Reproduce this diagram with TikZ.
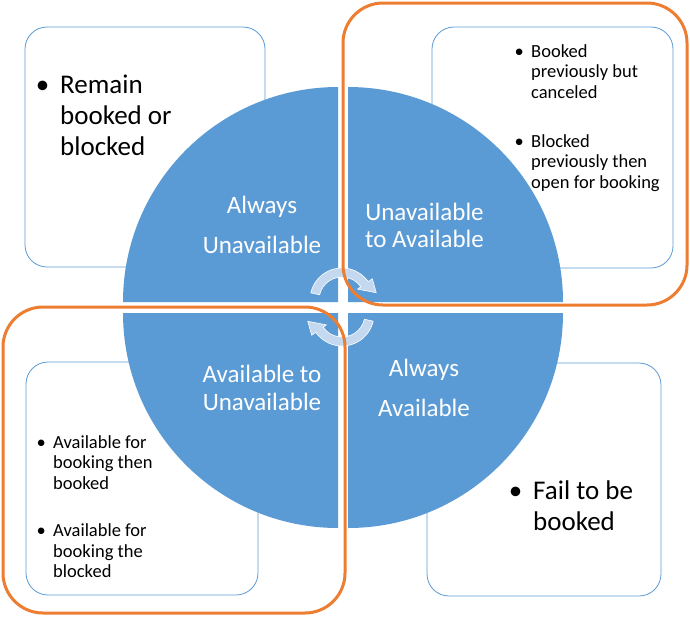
\documentclass[tikz,border=0pt]{standalone}
\usepackage{fontspec}
\setmainfont{Carlito}
\usepackage{xcolor}
\definecolor{qblue}{RGB}{91,155,213}
\definecolor{qorange}{RGB}{237,125,49}
\definecolor{qpale}{RGB}{196,216,239}
\usepackage{tikz}
\newcommand{\bul}{\leavevmode\llap{\textbullet\hspace{0.4em}}}

\tikzset{
  infobox/.style={draw=qblue, line width=0.8pt, fill=white, rounded corners=22pt},
  quad/.style={fill=qblue},
  qtext/.style={text=white, align=center, inner sep=0pt, font=\fontsize{25}{#1}\selectfont},
  bigtext/.style={anchor=west, align=left, inner sep=0pt, font=\fontsize{27}{31}\selectfont},
  smalltext/.style={anchor=west, align=left, inner sep=0pt, font=\fontsize{18.5}{20.5}\selectfont},
  cyclearrow/.style={fill=qpale, draw=white, line width=0.6pt},
  focus/.style={draw=qorange, line width=3pt, rounded corners=40pt}
}

\begin{document}
\begin{tikzpicture}[x=1pt, y=1pt]
  \fill[white] (0,0) rectangle (690,-616);
  \useasboundingbox (0,0) rectangle (690,-616);

  % Info boxes behind the circle
  \draw[infobox] (25,-27) rectangle (265,-267);
  \draw[infobox] (432,-27) rectangle (673,-268);
  \draw[infobox] (26,-362) rectangle (258,-595);
  \draw[infobox] (427,-363) rectangle (661,-596);

  % --- Circle quadrants ---
  \fill[quad] (338,-302) -- (123,-302) arc[start angle=180, end angle=90, radius=215pt] -- cycle;
  \fill[quad] (348,-302) -- (348,-87) arc[start angle=90, end angle=0, radius=215pt] -- cycle;
  \fill[quad] (338,-313) -- (123,-313) arc[start angle=180, end angle=270, radius=215pt] -- cycle;
  \fill[quad] (348,-313) -- (563,-313) arc[start angle=0, end angle=-90, radius=215pt] -- cycle;

  \node[qtext=40] (alwaysun) at (262,-224.5) {Always\\Unavailable};
  \node[qtext=27] (untoav) at (424.5,-225) {Unavailable\\to Available};
  \node[qtext=28] (avtoun) at (262,-387.5) {Available to\\Unavailable};
  \node[qtext=40] (alwaysav) at (424,-387.5) {Always\\Available};

  % --- Bullet texts ---
  \node[bigtext] (remain) at (60,-115.7) {\bul Remain\\booked or\\blocked};
  \node[smalltext] (cancel) at (531,-71.6) {\bul Booked\\previously but\\canceled};
  \node[smalltext] (reopen) at (531,-163) {\bul Blocked\\previously then\\open for booking};
  \node[smalltext] (booked) at (53,-462.6) {\bul Available for\\booking then\\booked};
  \node[smalltext] (blocked) at (53,-551.1) {\bul Available for\\booking the\\blocked};
  \node[bigtext] (fail) at (533,-506.2) {\bul Fail to be\\booked};

  % Cycle arrows in the middle
  \begin{scope}[shift={(342,-300)}]
    \draw[cyclearrow] (167:32pt) arc[start angle=167, end angle=35, radius=32pt] -- (35:37pt) -- (12:35pt)
      -- (35:19pt) -- (35:23pt) arc[start angle=35, end angle=167, radius=23pt] -- cycle;
  \end{scope}
  \begin{scope}[shift={(342,-314)}]
    \draw[cyclearrow] (-13:32pt) arc[start angle=-13, end angle=-145, radius=32pt] -- (-145:37pt) -- (-168:35pt)
      -- (-145:19pt) -- (-145:23pt) arc[start angle=-145, end angle=-13, radius=23pt] -- cycle;
  \end{scope}

  % Orange highlights
  \draw[focus] (343,-3) rectangle (687,-305);
  \draw[focus] (3,-307) rectangle (345,-613);
\end{tikzpicture}
\end{document}
